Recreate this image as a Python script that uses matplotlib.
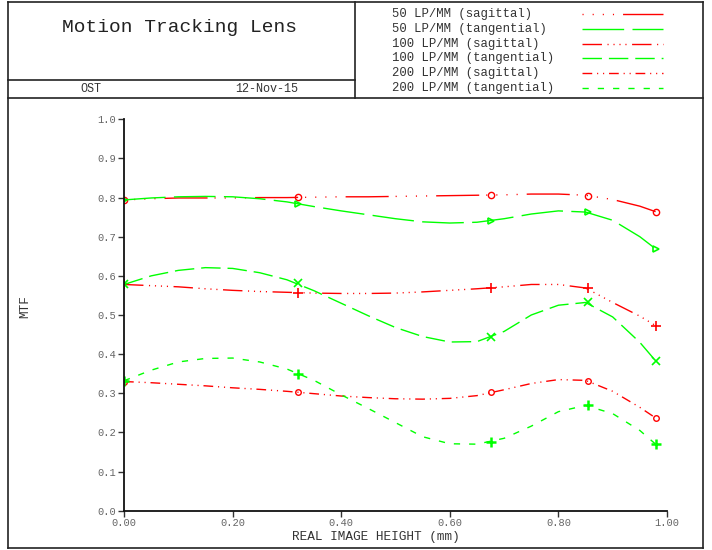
import matplotlib
matplotlib.use('Agg')
import matplotlib.pyplot as plt
from matplotlib.lines import Line2D

plt.rcParams['font.family'] = ['Liberation Mono', 'DejaVu Sans Mono']

W, H = 712, 550

title = 'Motion Tracking Lens'
org = 'OST'
date = '12-Nov-15'

# field positions (mm) of the evaluated points
field_pts = [0.0, 0.321, 0.676, 0.854, 0.979]
# field positions of the traced curves
field_curve = [0.0, 0.05, 0.10, 0.15, 0.20, 0.25, 0.30, 0.35, 0.40, 0.45, 0.50,
               0.55, 0.60, 0.65, 0.70, 0.75, 0.80, 0.85, 0.90, 0.95, 0.979]

names = ['50 LP/MM (sagittal)', '50 LP/MM (tangential)',
         '100 LP/MM (sagittal)', '100 LP/MM (tangential)',
         '200 LP/MM (sagittal)', '200 LP/MM (tangential)']

mtf_50_s = [0.794, 0.797, 0.799, 0.799, 0.799, 0.800, 0.800, 0.801, 0.802, 0.802, 0.803,
            0.804, 0.805, 0.806, 0.807, 0.809, 0.809, 0.806, 0.795, 0.778, 0.764]
mtf_50_t = [0.794, 0.799, 0.802, 0.803, 0.802, 0.797, 0.789, 0.777, 0.766, 0.756, 0.746,
            0.738, 0.735, 0.737, 0.746, 0.758, 0.766, 0.763, 0.742, 0.700, 0.669]
mtf_100_s = [0.578, 0.575, 0.572, 0.567, 0.563, 0.560, 0.558, 0.556, 0.555, 0.555, 0.556,
             0.559, 0.563, 0.567, 0.572, 0.578, 0.578, 0.569, 0.532, 0.497, 0.473]
mtf_100_t = [0.578, 0.600, 0.614, 0.621, 0.619, 0.608, 0.590, 0.562, 0.530, 0.498, 0.468,
             0.445, 0.431, 0.432, 0.458, 0.500, 0.525, 0.532, 0.495, 0.430, 0.383]
mtf_200_s = [0.330, 0.327, 0.323, 0.319, 0.314, 0.310, 0.305, 0.299, 0.293, 0.289, 0.286,
             0.285, 0.287, 0.294, 0.309, 0.325, 0.335, 0.333, 0.305, 0.264, 0.237]
mtf_200_t = [0.332, 0.359, 0.380, 0.389, 0.390, 0.380, 0.362, 0.333, 0.296, 0.261, 0.225,
             0.189, 0.171, 0.170, 0.185, 0.216, 0.253, 0.269, 0.248, 0.205, 0.170]

pts_50_s = [0.794, 0.801, 0.806, 0.805, 0.764]
pts_50_t = [0.794, 0.784, 0.741, 0.763, 0.669]
pts_100_s = [0.578, 0.557, 0.570, 0.568, 0.473]
pts_100_t = [0.578, 0.581, 0.443, 0.532, 0.383]
pts_200_s = [0.330, 0.302, 0.302, 0.332, 0.237]
pts_200_t = [0.332, 0.350, 0.1755, 0.269, 0.170]

RED = '#ff0000'
GREEN = '#00ff00'

styles = [
    dict(color=RED, dashes=(0.8, 6.5, 0.8, 6.5, 0.8, 6.5, 0.8, 6.5, 31, 5), marker='o', ms=4.5, mfc='none', mew=1.0),
    dict(color=GREEN, dashes=(30, 6), marker='>', ms=5, mfc='none', mew=1.2),
    dict(color=RED, dashes=(14, 4, 0.8, 3.5, 0.8, 3.5, 0.8, 3.5, 0.8, 4), marker='+', ms=7, mfc='none', mew=1.2),
    dict(color=GREEN, dashes=(14, 5), marker='x', ms=5.5, mfc='none', mew=1.2),
    dict(color=RED, dashes=(7, 3.5, 0.8, 3.5, 0.8, 3.5), marker='o', ms=4, mfc='none', mew=1.0),
    dict(color=GREEN, dashes=(4.5, 6.5), marker='+', ms=7, mfc='none', mew=1.8),
]
curves = [mtf_50_s, mtf_50_t, mtf_100_s, mtf_100_t, mtf_200_s, mtf_200_t]
points = [pts_50_s, pts_50_t, pts_100_s, pts_100_t, pts_200_s, pts_200_t]


def fx(px):
    return px / W


def fy(py):
    return 1 - py / H


fig = plt.figure(figsize=(W / 100, H / 100), dpi=100)

# header frame
frame = [((8, 703), (2, 2)), ((8, 703), (98, 98)), ((8, 703), (548, 548)),
         ((8, 8), (2, 548)), ((703, 703), (2, 548)), ((355, 355), (2, 98)),
         ((8, 355), (80, 80))]
for xs, ys in frame:
    fig.add_artist(Line2D([fx(x) for x in xs], [fy(y) for y in ys],
                          color='#222222', lw=1.2, transform=fig.transFigure))

fig.text(fx(180), fy(27), title, ha='center', va='center', fontsize=14, color='#222222')
fig.text(fx(91), fy(89), org, ha='center', va='center', fontsize=8.5, color='#333333')
fig.text(fx(267), fy(89), date, ha='center', va='center', fontsize=8.5, color='#333333')

# legend block
for i, (name, st) in enumerate(zip(names, styles)):
    y = 14 + i * 14.8
    fig.text(fx(392), fy(y), name, ha='left', va='center', fontsize=8.8, color='#333333')
    fig.add_artist(Line2D([fx(582), fx(663)], [fy(y), fy(y)], color=st['color'], lw=1.0,
                          dashes=st['dashes'], transform=fig.transFigure))

ax = fig.add_axes([fx(124), fy(510.7), fx(667) - fx(124), fy(119.3) - fy(510.7)])

for curve, pts, st in zip(curves, points, styles):
    ax.plot(field_curve, curve, color=st['color'], lw=1.0, dashes=st['dashes'])
    ax.plot(field_pts, pts, ls='none', color=st['color'], marker=st['marker'],
            ms=st['ms'], mfc=st['mfc'], mew=st['mew'])

ax.set_xlim(0, 1)
ax.set_ylim(0, 1)
ax.set_xticks([0, 0.2, 0.4, 0.6, 0.8, 1.0])
ax.set_xticklabels(['0.00', '0.20', '0.40', '0.60', '0.80', '1.00'])
ax.set_yticks([i / 10 for i in range(11)])
ax.set_yticklabels(['%.1f' % (i / 10) for i in range(11)])
for s in ['top', 'right']:
    ax.spines[s].set_visible(False)
for s in ['left', 'bottom']:
    ax.spines[s].set_linewidth(1.3)
    ax.spines[s].set_color('#111111')
ax.tick_params(direction='out', length=4, width=1, color='#333333', labelsize=7.5,
               labelcolor='#666666', pad=1.5)

# axis titles placed in figure pixels
fig.text(fx(376), fy(537), 'REAL IMAGE HEIGHT (mm)', ha='center', va='center',
         fontsize=9.2, color='#333333')
fig.text(fx(25), fy(307), 'MTF', ha='center', va='center', rotation=90,
         fontsize=9.2, color='#333333')

fig.savefig('out.png', dpi=100)
